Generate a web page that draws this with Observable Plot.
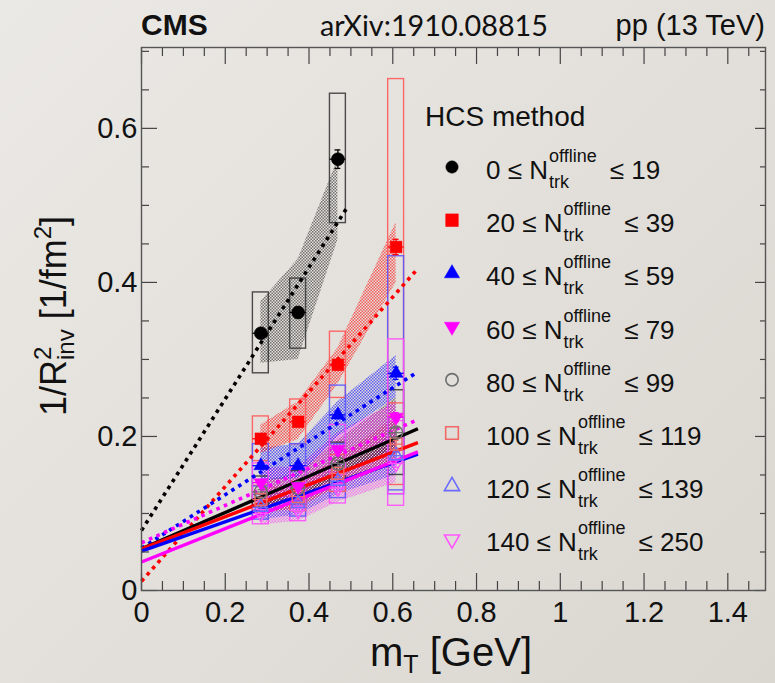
<!DOCTYPE html>
<html><head><meta charset="utf-8">
<script src="https://cdn.jsdelivr.net/npm/d3@7"></script>
<script src="https://cdn.jsdelivr.net/npm/@observablehq/plot@0.6"></script>
<style>
html,body{margin:0;padding:0;}
body{width:775px;height:683px;overflow:hidden;background:linear-gradient(135deg,#ebe9e5 0%,#e2dfda 55%,#dad6d0 100%);}
#chart svg{display:block;}
</style></head><body><div id="chart"></div>
<script>
// ---------- data ----------
const mT = [0.285, 0.374, 0.469, 0.608];
const nLow = [0, 20, 40, 60, 80, 100, 120, 140];
const nHigh = [19, 39, 59, 79, 99, 119, 139, 250];
const seriesColor = ["#000000", "#ff0000", "#0000ff", "#ff00ff", "#000000", "#ff0000", "#0000ff", "#ff00ff"];
const openColor = ["#000000", "#ff0000", "#0000ff", "#ff00ff", "#6e6e6e", "#f06868", "#6a6aff", "#ff55ff"];
const boxColor = ["#3a3a3a", "#ff5a5a", "#5a5aff", "#ff4cff", "#3a3a3a", "#ff5a5a", "#5a5aff", "#ff4cff"];
const isFilled = [true, true, true, true, false, false, false, false];
const shape = ["circle", "square", "triangle", "triangleDown", "circle", "square", "triangle", "triangleDown"];

const invR2 = [
  [0.334, 0.361, 0.560],
  [0.197, 0.219, 0.293, 0.446],
  [0.162, 0.162, 0.228, 0.282],
  [0.140, 0.135, 0.183, 0.225],
  [0.128, 0.133, 0.165, 0.205],
  [0.118, 0.122, 0.152, 0.190],
  [0.108, 0.113, 0.142, 0.175],
  [0.100, 0.104, 0.133, 0.165]
];
const statErr = [
  [0.006, 0.007, 0.012],
  [0.004, 0.005, 0.006, 0.010],
  [0.004, 0.004, 0.005, 0.008],
  [0.003, 0.003, 0.004, 0.006],
  [0.003, 0.003, 0.004, 0.006],
  [0.003, 0.003, 0.004, 0.005],
  [0.003, 0.003, 0.004, 0.005],
  [0.003, 0.003, 0.004, 0.005]
];
const sysLow = [
  [0.282, 0.314, 0.477],
  [0.168, 0.190, 0.250, 0.226],
  [0.135, 0.135, 0.190, 0.130],
  [0.115, 0.112, 0.150, 0.125],
  [0.108, 0.112, 0.138, 0.150],
  [0.100, 0.103, 0.128, 0.137],
  [0.092, 0.096, 0.120, 0.125],
  [0.086, 0.090, 0.113, 0.110]
];
const sysHigh = [
  [0.387, 0.405, 0.645],
  [0.226, 0.248, 0.336, 0.664],
  [0.190, 0.190, 0.266, 0.434],
  [0.165, 0.160, 0.215, 0.326],
  [0.148, 0.155, 0.192, 0.260],
  [0.136, 0.141, 0.176, 0.243],
  [0.124, 0.130, 0.164, 0.225],
  [0.116, 0.120, 0.153, 0.220]
];
const bandLow = [
  [0.295, 0.300, 0.455],
  [0.178, 0.196, 0.268, 0.400],
  [0.142, 0.146, 0.200, 0.250],
  [0.118, 0.120, 0.160, 0.200],
  [0.110, 0.118, 0.148, 0.185],
  [0.100, 0.106, 0.135, 0.165],
  [0.092, 0.098, 0.125, 0.150],
  [0.085, 0.090, 0.115, 0.140]
];
const bandHigh = [
  [0.375, 0.430, 0.560],
  [0.215, 0.245, 0.315, 0.478],
  [0.185, 0.190, 0.245, 0.305],
  [0.160, 0.160, 0.205, 0.245],
  [0.142, 0.152, 0.195, 0.250],
  [0.132, 0.140, 0.172, 0.225],
  [0.122, 0.130, 0.160, 0.205],
  [0.115, 0.120, 0.150, 0.195]
];
// fit lines: value at mT = 0 and at end point
const fitXEnd = [0.493, 0.66, 0.66, 0.66, 0.66, 0.66, 0.66, 0.66];
const fitY0 = [0.078, 0.012, 0.055, 0.062, 0.054, 0.054, 0.051, 0.037];
const fitY1 = [0.499, 0.418, 0.284, 0.222, 0.210, 0.192, 0.177, 0.180];

const xTicks = [0, 0.2, 0.4, 0.6, 0.8, 1, 1.2, 1.4];
const xMinor = [0.05,0.1,0.15,0.25,0.3,0.35,0.45,0.5,0.55,0.65,0.7,0.75,0.85,0.9,0.95,1.05,1.1,1.15,1.25,1.3,1.35,1.45];
const yTicks = [0, 0.2, 0.4, 0.6];
const yMinor = [0.05,0.1,0.15,0.25,0.3,0.35,0.45,0.5,0.55,0.65,0.7];
const legendTitle = "HCS method";
const headerLeft = "CMS", headerMid = "arXiv:1910.08815", headerRight = "pp (13 TeV)";

// ---------- build ----------
const FONT = "'Liberation Sans', Arial, Helvetica, sans-serif";
const W = 775, H = 683, ML = 141, MR = 10, MT = 47, MB = 93;
const PW = W - ML - MR, PH = H - MT - MB;
const idx = d3.range(invR2.length);

const triangleDown = {
  draw(context, size) {
    const y = -Math.sqrt(size / (Math.sqrt(3) * 3));
    context.moveTo(0, -y * 2);
    context.lineTo(-Math.sqrt(3) * y, y);
    context.lineTo(Math.sqrt(3) * y, y);
    context.closePath();
  }
};
const symFor = s => s === "triangleDown" ? triangleDown : s;
const rFor = s => s === "circle" ? 6.5 : s === "square" ? 6.6 : 5.2;

const rows = idx.flatMap(i => invR2[i].map((v, j) => ({
  s: i, x: mT[j], y: v, lo: sysLow[i][j], hi: sysHigh[i][j],
  bl: bandLow[i][j], bh: bandHigh[i][j], e: statErr[i][j]
})));
const fits = idx.flatMap(i => [{s: i, x: 0, y: fitY0[i]}, {s: i, x: fitXEnd[i], y: fitY1[i]}]);
const BOXW = 0.019;

const marks = [];
// hatched bands (open series first, then filled on top)
for (const i of [7, 6, 5, 4, 3, 2, 1, 0]) {
  marks.push(Plot.areaY(rows.filter(d => d.s === i), {
    x: "x", y1: "bl", y2: "bh", fill: `url(#hatch${i})`, curve: "linear"
  }));
}
// systematic boxes
for (const i of [7, 6, 5, 4, 0, 1, 2, 3]) {
  marks.push(Plot.rect(rows.filter(d => d.s === i), {
    x1: d => d.x - BOXW, x2: d => d.x + BOXW, y1: "lo", y2: "hi",
    fill: "none", stroke: boxColor[i], strokeWidth: 1.4, strokeOpacity: 0.9
  }));
}
// fit lines
for (const i of idx) {
  marks.push(Plot.line(fits.filter(d => d.s === i), {
    x: "x", y: "y", stroke: seriesColor[i], strokeWidth: isFilled[i] ? 3.6 : 3.4,
    strokeDasharray: isFilled[i] ? "3.6 4.6" : null, strokeLinecap: "butt"
  }));
}
// error bars
for (const i of idx) {
  const data = rows.filter(d => d.s === i);
  const c = isFilled[i] ? seriesColor[i] : openColor[i];
  marks.push(Plot.ruleX(data, {x: "x", y1: d => d.y - d.e, y2: d => d.y + d.e, stroke: c, strokeWidth: 1.3}));
  marks.push(Plot.ruleY(data, {y: d => d.y + d.e, x1: d => d.x - 0.007, x2: d => d.x + 0.007, stroke: c, strokeWidth: 1.3}));
  marks.push(Plot.ruleY(data, {y: d => d.y - d.e, x1: d => d.x - 0.007, x2: d => d.x + 0.007, stroke: c, strokeWidth: 1.3}));
  marks.push(Plot.ruleY(data, {y: "y", x1: d => d.x - BOXW, x2: d => d.x + BOXW, stroke: c, strokeWidth: 1.3}));
}
// points
for (const i of [7, 6, 5, 4, 3, 2, 1, 0]) {
  marks.push(Plot.dot(rows.filter(d => d.s === i), {
    x: "x", y: "y", symbol: symFor(shape[i]), r: rFor(shape[i]),
    fill: isFilled[i] ? seriesColor[i] : "none",
    stroke: isFilled[i] ? seriesColor[i] : openColor[i], strokeWidth: isFilled[i] ? 0.5 : 1.5
  }));
}
// ticks (inside, ROOT style)
marks.push(Plot.ruleX(xTicks, {x: d => d, insetTop: PH - 17, stroke: "#444", strokeWidth: 1.2}));
marks.push(Plot.ruleX(xMinor, {x: d => d, insetTop: PH - 9, stroke: "#444", strokeWidth: 1.2}));
marks.push(Plot.ruleX(xTicks, {x: d => d, insetBottom: PH - 17, stroke: "#444", strokeWidth: 1.2}));
marks.push(Plot.ruleX(xMinor, {x: d => d, insetBottom: PH - 9, stroke: "#444", strokeWidth: 1.2}));
marks.push(Plot.ruleY(yTicks, {y: d => d, insetRight: PW - 16, stroke: "#444", strokeWidth: 1.2}));
marks.push(Plot.ruleY(yMinor, {y: d => d, insetRight: PW - 8, stroke: "#444", strokeWidth: 1.2}));
marks.push(Plot.ruleY(yTicks, {y: d => d, insetLeft: PW - 10, stroke: "#444", strokeWidth: 1.2}));
marks.push(Plot.ruleY(yMinor, {y: d => d, insetLeft: PW - 5, stroke: "#444", strokeWidth: 1.2}));
marks.push(Plot.frame({stroke: "#555", strokeWidth: 1.4}));
marks.push(Plot.axisX(xTicks, {tickSize: 0, tickPadding: 11, fontSize: 29, tickFormat: d => String(d), label: null}));
marks.push(Plot.axisY(yTicks, {tickSize: 0, tickPadding: 4, fontSize: 29, tickFormat: d => String(d), label: null}));

const chart = Plot.plot({
  width: W, height: H,
  marginLeft: ML, marginRight: MR, marginTop: MT, marginBottom: MB,
  x: {domain: [0, 1.49]},
  y: {domain: [0, 0.705]},
  style: {background: "transparent", fontFamily: FONT, color: "#111", overflow: "visible"},
  marks
});
document.getElementById("chart").appendChild(chart);

// ---------- decorations ----------
const svg = d3.select(chart);
const defs = svg.insert("defs", ":first-child");
idx.forEach(i => {
  const p = defs.append("pattern").attr("id", `hatch${i}`).attr("patternUnits", "userSpaceOnUse")
    .attr("width", 3).attr("height", 3);
  const op = i === 0 || i === 4 ? 0.5 : isFilled[i] ? 0.6 : 0.45;
  p.append("rect").attr("x", 0).attr("y", 0).attr("width", 1.5).attr("height", 1.5).attr("fill", seriesColor[i]).attr("fill-opacity", op);
  p.append("rect").attr("x", 1.5).attr("y", 1.5).attr("width", 1.5).attr("height", 1.5).attr("fill", seriesColor[i]).attr("fill-opacity", op);
});

const g = svg.append("g").attr("font-family", FONT).attr("fill", "#111").attr("text-anchor", "start");
// header
g.append("text").attr("x", 141).attr("y", 35).attr("font-size", 30).attr("font-weight", "bold").text(headerLeft);
g.append("text").attr("x", 320).attr("y", 36).attr("font-size", 28).attr("font-family", "Lato, 'Open Sans', sans-serif")
  .attr("textLength", 228).attr("lengthAdjust", "spacingAndGlyphs").text(headerMid);
g.append("text").attr("x", 765).attr("y", 35).attr("font-size", 29).attr("text-anchor", "end").text(headerRight);

// x title
const xt = g.append("text").attr("x", 370).attr("y", 666).attr("font-size", 40);
xt.append("tspan").text("m");
xt.append("tspan").attr("font-size", 25).attr("dy", 7).text("T");
xt.append("tspan").attr("dy", -7).text(" [GeV]");

// y title
const yt = g.append("text").attr("transform", "translate(66,316) rotate(-90)").attr("text-anchor", "middle").attr("font-size", 36);
yt.append("tspan").text("1/R");
yt.append("tspan").attr("font-size", 24).attr("dy", -15).text("2");
yt.append("tspan").attr("font-size", 24).attr("dx", -13.3).attr("dy", 23).text("inv");
yt.append("tspan").attr("dy", -8).text(" [1/fm");
yt.append("tspan").attr("font-size", 24).attr("dy", -15).text("2");
yt.append("tspan").attr("dy", 15).text("]");

// legend
g.append("text").attr("x", 425).attr("y", 126).attr("font-size", 28).text(legendTitle);
idx.forEach(i => {
  const cy = 167 + i * 53.2;
  const sym = shape[i] === "triangleDown" ? triangleDown
    : shape[i] === "circle" ? d3.symbolCircle : shape[i] === "square" ? d3.symbolSquare : d3.symbolTriangle;
  const size = shape[i] === "circle" ? 120 : shape[i] === "square" ? 160 : 100;
  g.append("path").attr("d", d3.symbol(sym, size)())
    .attr("transform", `translate(452,${cy})`)
    .attr("fill", isFilled[i] ? seriesColor[i] : "none")
    .attr("stroke", isFilled[i] ? seriesColor[i] : openColor[i])
    .attr("stroke-width", isFilled[i] ? 0.5 : 1.6);
  const base = cy + 12;
  const t = g.append("text").attr("x", 486).attr("y", base).attr("font-size", 26).text(`${nLow[i]} \u2264 N`);
  const sx = 486 + t.node().getComputedTextLength() + 1;
  const sup = g.append("text").attr("x", sx).attr("y", base - 17).attr("font-size", 18).text("offline");
  g.append("text").attr("x", sx).attr("y", base + 9).attr("font-size", 18).text("trk");
  const ws = sup.node().getComputedTextLength();
  g.append("text").attr("x", sx + ws + 13).attr("y", base).attr("font-size", 26).text(`\u2264 ${nHigh[i]}`);
});
</script>
</body></html>
